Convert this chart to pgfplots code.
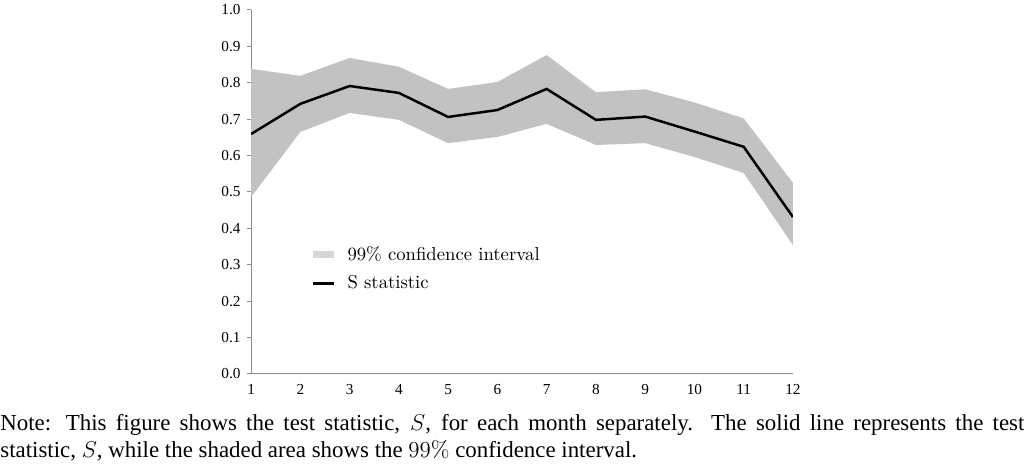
\documentclass[border=0pt]{standalone}
\usepackage{fontspec}
\usepackage{pgfplots}
\pgfplotsset{compat=1.18}
\newfontfamily\timesfont{Liberation Serif}
\definecolor{bandgray}{gray}{0.76}
\definecolor{leggray}{gray}{0.84}
\definecolor{axgray}{gray}{0.55}
\begin{document}
\begin{tikzpicture}
\path[use as bounding box] (0,0) rectangle (536.7pt,-245.8pt);
\begin{axis}[
  at={(131.6pt,-196pt)}, anchor=south west,
  scale only axis, width=284pt, height=190.8pt,
  xmin=1, xmax=12, ymin=0, ymax=1,
  axis x line=bottom, axis y line=left,
  axis line style={axgray, line width=0.5pt, -},
  xtick={1,...,12},
  ytick={0,0.1,...,1.0},
  yticklabel style={/pgf/number format/.cd, fixed, fixed zerofill, precision=1},
  /pgf/number format/assume math mode=true,
  ticklabel style={font=\timesfont\fontsize{8}{9}\selectfont},
  x tick style={draw=none},
  y tick style={axgray, line width=0.5pt},
  tick align=outside,
  major tick length=2pt,
  legend style={at={(0.1105,0.363)}, anchor=north west, draw=none, fill=none,
    inner sep=0pt, row sep=2.6pt, font=\fontsize{9.8}{11.5}\selectfont},
  legend cell align=left,
]
% 99% confidence band: upper bound for months 1..12, then lower bound for months 12..1
\addplot[fill=bandgray, draw=none, area legend,
  legend image code/.code={\fill[leggray] (0cm,-0.065cm) rectangle (0.4cm,0.065cm); \path (0.55cm,0cm);}]
  coordinates {
(1,0.838) (2,0.819) (3,0.868) (4,0.844) (5,0.783) (6,0.802)
(7,0.876) (8,0.774) (9,0.782) (10,0.746) (11,0.702) (12,0.525)
(12,0.354) (11,0.552) (10,0.596) (9,0.634) (8,0.629) (7,0.687)
(6,0.651) (5,0.634) (4,0.698) (3,0.717) (2,0.665) (1,0.486)} -- cycle;
\addlegendentry{99\% confidence interval}
\addplot[black, line width=1.3pt,
  legend image code/.code={\draw[black, line width=1.3pt] (0cm,0cm) -- (0.4cm,0cm); \path (0.55cm,0cm);}] coordinates {
(1,0.659) (2,0.742) (3,0.791) (4,0.772) (5,0.706) (6,0.725)
(7,0.783) (8,0.698) (9,0.707) (10,0.666) (11,0.624) (12,0.431)};
\addlegendentry{S statistic}
\end{axis}
\node[anchor=north west, inner sep=0pt, text width=536.7pt, align=justify,
  font=\timesfont\fontsize{12}{14.4}\selectfont] at (0,-216.8pt)
  {Note: This figure shows the test statistic, $S$, for each month separately. The solid line represents the test\linebreak
  statistic, $S$, while the shaded area shows the $99\%$ confidence interval.};
\end{tikzpicture}
\end{document}
